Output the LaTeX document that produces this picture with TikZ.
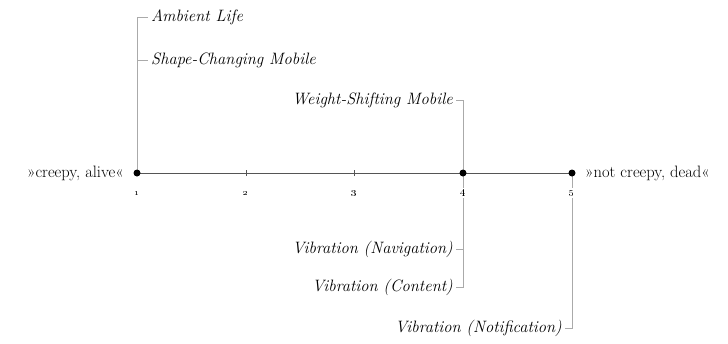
\documentclass[tikz,border=0pt]{standalone}
\usetikzlibrary{positioning}
\definecolor{axisgray}{HTML}{555555}
\definecolor{linkgray}{HTML}{AAAAAA}

\begin{document}
\begin{tikzpicture}[
  x=1pt, y=-1pt,
  font=\fontsize{16.5}{19}\selectfont,
  axis/.style={draw=axisgray, line width=0.9pt},
  link/.style={draw=linkgray, line width=0.7pt},
  dot/.style={circle, fill=black, inner sep=0pt, minimum size=7pt},
  tickmark/.style={draw=axisgray, line width=0.7pt},
  num/.style={fill=white, inner sep=1.5pt, font=\fontsize{10}{11}\selectfont},
  lbl/.style={inner sep=3pt, font=\fontsize{16.5}{19}\selectfont\itshape},
  pole/.style={inner sep=0pt}
]
\useasboundingbox (0,0) rectangle (728,343);

% scale points
\foreach \i/\x in {1/137, 2/246, 3/354, 4/463, 5/572}
  \coordinate (p\i) at (\x,173);

\draw[axis] (p1) -- (p5);
\foreach \i in {2,3}
  \draw[tickmark] ([yshift=-3pt]p\i) -- ([yshift=3pt]p\i);

% categories
\node[lbl, anchor=west] (amb)    at (148,17)  {Ambient Life};
\node[lbl, anchor=west] (shape)  at (148,60)  {Shape-Changing Mobile};
\node[lbl, anchor=east] (weight) at (456,100) {Weight-Shifting Mobile};
\node[lbl, anchor=east] (nav)    at (456,249) {Vibration (Navigation)};
\node[lbl, anchor=east] (cont)   at (456,287) {Vibration (Content)};
\node[lbl, anchor=east] (notif)  at (565,328) {Vibration (Notification)};

\draw[link] (p1) |- (amb.west);
\draw[link] (p1) |- (shape.west);
\draw[link] (p4) |- (weight.east);
\draw[link] (p4) |- (nav.east);
\draw[link] (p4) |- (cont.east);
\draw[link] (p5) |- (notif.east);

% numbers
\foreach \i in {1,...,5}
  \node[num] (n\i) at ([yshift=-20pt]p\i) {\oldstylenums{\i}};

\foreach \i in {1,4,5}
  \node[dot] (d\i) at (p\i) {};

% poles
\node[pole, left=13pt of p1]  (alive) {»creepy, alive«};
\node[pole, right=13pt of p5] (dead)  {»not creepy, dead«};
\end{tikzpicture}
\end{document}
